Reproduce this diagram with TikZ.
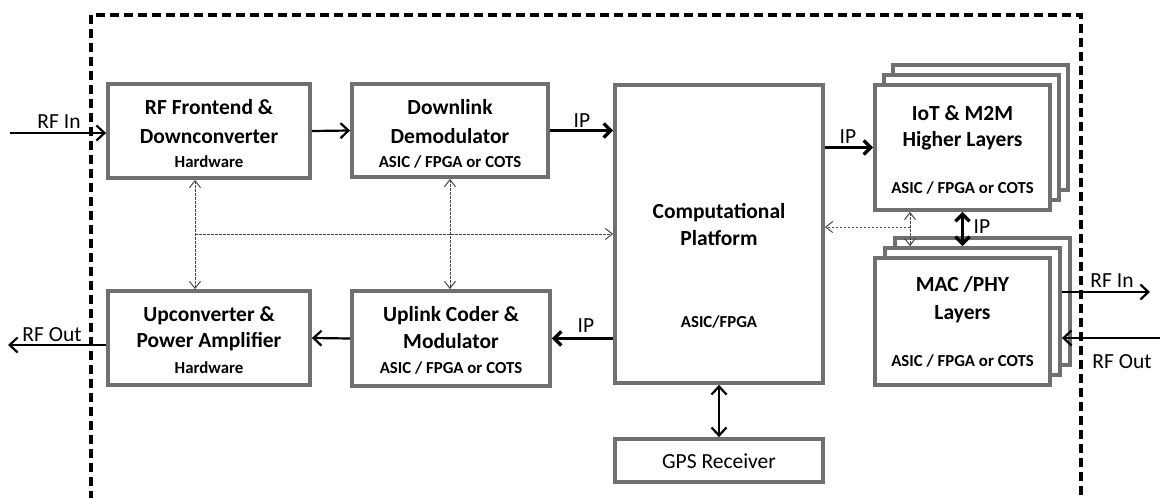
\documentclass[tikz,border=0pt]{standalone}
\usepackage{fontspec}
\setmainfont{Carlito}
\usetikzlibrary{arrows.meta}
\definecolor{boxgray}{RGB}{112,112,112}
\definecolor{dotgray}{RGB}{70,70,70}
\begin{document}
\begin{tikzpicture}[x=1pt,y=-1pt,
 box/.style={draw=boxgray, line width=3.8pt, fill=white, inner sep=0pt},
 ttl/.style={font=\bfseries\fontsize{21.5}{24}\selectfont, inner sep=0pt, anchor=base},
 sub/.style={font=\bfseries\fontsize{16.8}{18}\selectfont, inner sep=0pt, anchor=base},
 lbl/.style={font=\fontsize{21.5}{24}\selectfont, inner sep=0pt, anchor=base},
 arr/.style={line width=2.2pt, -{Straight Barb[length=8pt,width=15pt]}},
 tarr/.style={line width=3.4pt, -{Straight Barb[length=7pt,width=14pt]}},
 tdarr/.style={line width=3.4pt, {Straight Barb[length=7pt,width=14pt]}-{Straight Barb[length=7pt,width=14pt]}},
 darr/.style={line width=2.2pt, {Straight Barb[length=8pt,width=15pt]}-{Straight Barb[length=8pt,width=15pt]}},
 dot/.style={draw=dotgray, line width=1pt, dash pattern=on 2.5pt off 1.5pt},
 dotarr/.style={dot, -{Straight Barb[length=7pt,width=11pt]}},
 dotdarr/.style={dot, {Straight Barb[length=7pt,width=11pt]}-{Straight Barb[length=7pt,width=11pt]}},
 bound/.style={line width=3.2pt, dash pattern=on 9pt off 5pt}
]
\useasboundingbox (0,0) rectangle (1160,498);
\fill[white] (0,0) rectangle (1160,498);

% boundary
\coordinate (bl) at (91,500);
\coordinate (tl) at (91,15);
\coordinate (tr) at (1081,15);
\coordinate (br) at (1081,500);
\draw[bound] (bl) -- (tl) -- (tr) -- (br);

% boxes
\node[box, minimum width=202pt, minimum height=94pt] (rf) at (209,131) {};
\node[box, minimum width=196pt, minimum height=93pt] (dl) at (450,130.5) {};
\node[box, minimum width=208pt, minimum height=298pt] (comp) at (719,234) {};
\node[box, minimum width=198pt, minimum height=95pt] (ul) at (451,338.5) {};
\node[box, minimum width=202pt, minimum height=94pt] (up) at (209,338) {};
\node[box, minimum width=208pt, minimum height=43pt] (gps) at (719,460.5) {};

\node[box, minimum width=175pt, minimum height=125pt] (iot3) at (980.5,127.5) {};
\node[box, minimum width=175pt, minimum height=125pt] (iot2) at (971.5,137.5) {};
\node[box, minimum width=175pt, minimum height=125pt] (iot) at (962.5,147.5) {};

\node[box, minimum width=175pt, minimum height=127pt] (mac3) at (982.5,301.5) {};
\node[box, minimum width=175pt, minimum height=127pt] (mac2) at (972.5,311.5) {};
\node[box, minimum width=175pt, minimum height=127pt] (mac) at (962.5,321.5) {};

% texts
\node[ttl] (rft1) at (209,114) {RF Frontend \&};
\node[ttl] (rft2) at (209,143) {Downconverter};
\node[sub] (rft3) at (209,167) {Hardware};

\node[ttl] (dlt1) at (450,114) {Downlink};
\node[ttl] (dlt2) at (450,143) {Demodulator};
\node[sub] (dlt3) at (450,167) {ASIC / FPGA or COTS};

\node[ttl] (cpt1) at (719,218) {Computational};
\node[ttl] (cpt2) at (719,245) {Platform};
\node[sub] (cpt3) at (719,327) {ASIC/FPGA};

\node[ttl] (ult1) at (451,321) {Uplink Coder \&};
\node[ttl] (ult2) at (451,348) {Modulator};
\node[sub] (ult3) at (451,373) {ASIC / FPGA or COTS};

\node[ttl] (upt1) at (209,321) {Upconverter \&};
\node[ttl] (upt2) at (209,347) {Power Amplifier};
\node[sub] (upt3) at (209,373) {Hardware};

\node[ttl] (iott1) at (962.5,120) {IoT \& M2M};
\node[ttl] (iott2) at (962.5,146) {Higher Layers};
\node[sub] (iott3) at (962.5,193) {ASIC / FPGA or COTS};

\node[ttl] (mact1) at (962.5,291) {MAC /PHY};
\node[ttl] (mact2) at (962.5,319) {Layers};
\node[sub] (mact3) at (962.5,366) {ASIC / FPGA or COTS};

\node[lbl] (gpst) at (719,468) {GPS Receiver};

% main connectors
\coordinate (rfin) at (10,133);
\draw[arr] (rfin) -- (rfin -| rf.west);
\node[lbl] (rfinl) at (59,128) {RF In};

\draw[arr] (rf.east) -- (dl.west);
\draw[tarr] (dl.east) -- (dl.east -| comp.west);
\node[lbl] (ip1) at (582,127) {IP};

\draw[tarr] (comp.east |- iot.west) -- (iot.west);
\node[lbl] (ip2) at (848,143) {IP};

\draw[tarr] (comp.west |- ul.east) -- (ul.east);
\node[lbl] (ip3) at (586,332) {IP};

\draw[arr] (ul.west) -- (up.east);

\coordinate (rfout) at (8,345);
\draw[arr] (rfout -| up.west) -- (rfout);
\node[lbl] (rfoutl) at (52,341) {RF Out};

\draw[tdarr] (iot.south) -- (iot.south |- mac2.north);
\node[lbl] (ip4) at (982,233) {IP};

\coordinate (rfin2) at (1150,292);
\draw[arr] (rfin2 -| mac2.east) -- (rfin2);
\node[lbl] (rfin2l) at (1112,287) {RF In};

\coordinate (rfout2) at (1160,338);
\draw[arr] (rfout2) -- (rfout2 -| mac2.east);
\node[lbl] (rfout2l) at (1122,368) {RF Out};

\draw[darr] (comp.south) -- (gps.north);

% dotted control lines
\coordinate (dA) at (195,234);
\draw[dotdarr] (dA |- rf.south) -- (dA |- up.north);
\draw[dotarr] (dA) -- (dA -| comp.west);
\draw[dotdarr] (dl.south) -- (dl.south |- ul.north);
\coordinate (dB) at (910,227);
\draw[dotdarr] (dB |- iot.south) -- (dB |- mac2.north);
\draw[dotarr] (dB) -- (dB -| comp.east);
\end{tikzpicture}
\end{document}
